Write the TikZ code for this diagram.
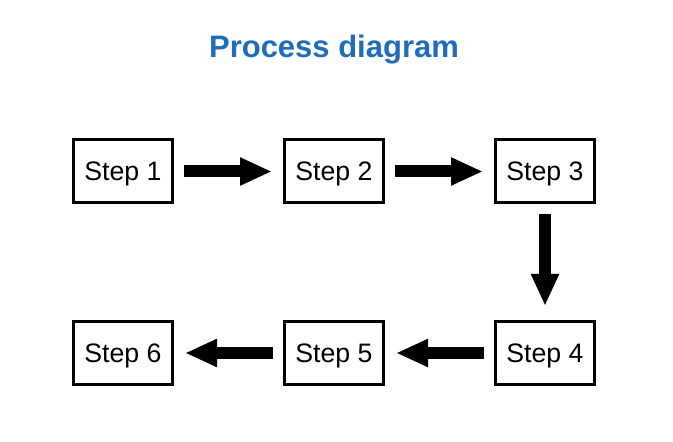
\documentclass[tikz,border=0pt]{standalone}
\usepackage{fontspec}
\setmainfont{Liberation Sans}
\usetikzlibrary{arrows.meta}
\definecolor{titleblue}{HTML}{1F6DB9}
\def \BoxW {99pt}
\def \BoxH {63pt}
\tikzstyle{stepbox}=[
  draw=black,
  line width=3pt,
  rectangle,
  minimum width=\BoxW,
  minimum height=\BoxH,
  inner sep=0pt,
  text height=19pt,
  text depth=0pt,
  font=\fontsize{26.7}{30}\selectfont
]
\tikzstyle{bigarrow}=[
  line width=12pt,
  -{Triangle[length=32pt,width=26pt]},
  shorten <=10pt,
  shorten >=11pt
]

\begin{document}
\begin{tikzpicture}[x=1pt,y=1pt]
          \useasboundingbox (0,0) rectangle (673,442);
          \def \x {123}
          \def \yTop {270.5}
          \def \yBot {89}
          \def \xOff {211}

          % title
          \node[anchor=base,text=titleblue,font=\fontsize{31}{36}\selectfont\bfseries] (title) at (334,384) {Process diagram};

          % top row
          \node[stepbox] (s1) at (\x, \yTop) {Step 1};
          \node[stepbox] (s2) at (\x + \xOff, \yTop) {Step 2};
          \node[stepbox] (s3) at (\x + 2*\xOff, \yTop) {Step 3};

          % bottom row
          \node[stepbox] (s4) at (\x + 2*\xOff, \yBot) {Step 4};
          \node[stepbox] (s5) at (\x + \xOff, \yBot) {Step 5};
          \node[stepbox] (s6) at (\x, \yBot) {Step 6};

          % connect steps
          \foreach \i/\j in {1/2,2/3,4/5,5/6}{
            \draw[bigarrow] (s\i) -- (s\j);
          }
          \draw[bigarrow,shorten >=14pt] (s3) -- (s4);
        \end{tikzpicture}
\end{document}
